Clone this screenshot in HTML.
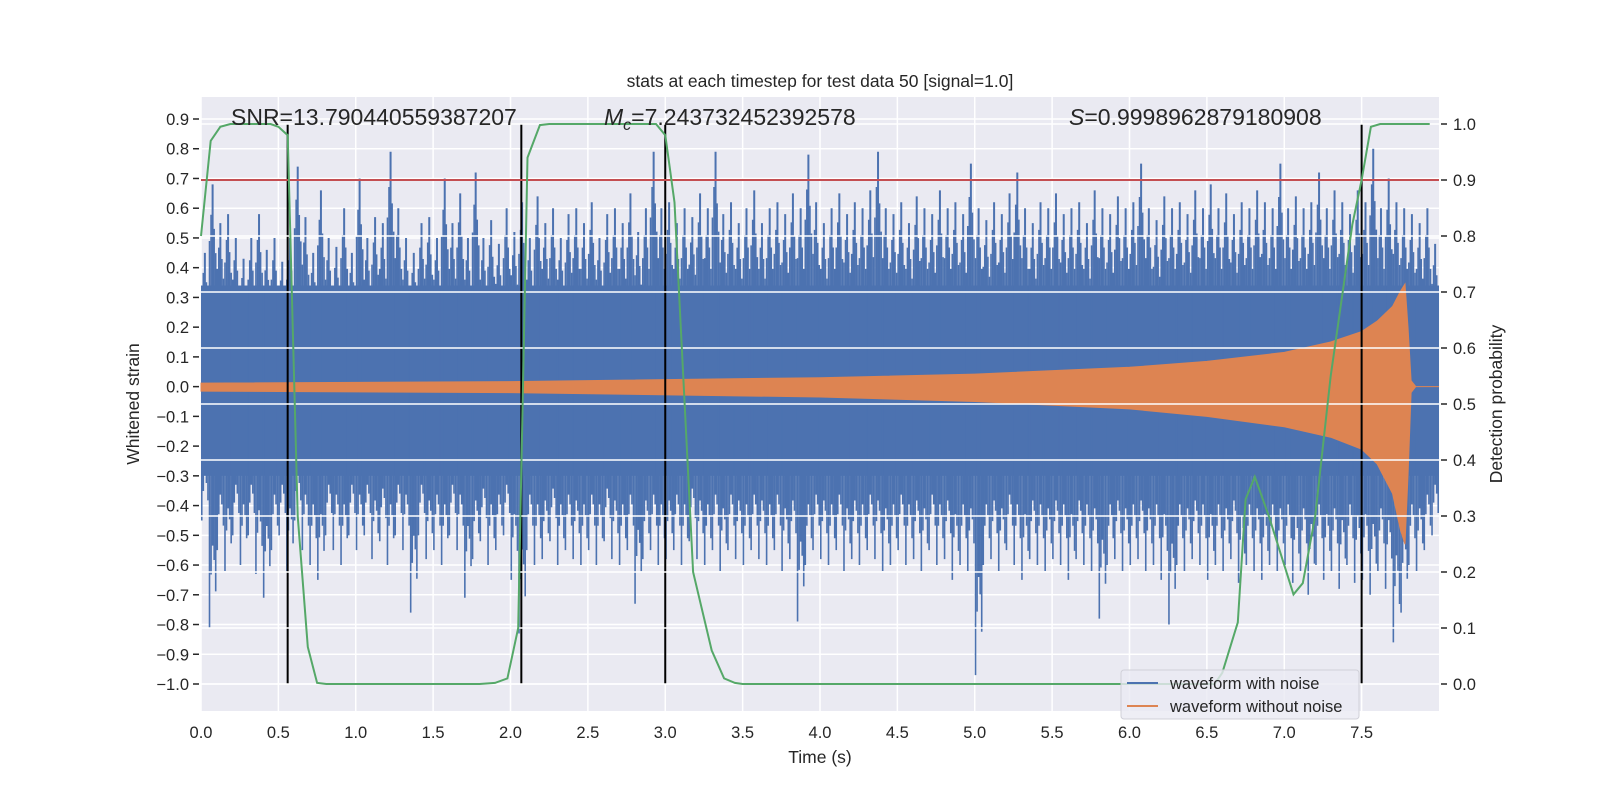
<!DOCTYPE html>
<html><head><meta charset="utf-8"><style>
html,body{margin:0;padding:0;background:#fff;}
svg{display:block;font-family:"Liberation Sans","DejaVu Sans",sans-serif;}
</style></head><body>
<svg id="chart" width="1600" height="800" viewBox="0 0 1600 800" xmlns="http://www.w3.org/2000/svg">
<rect x="0" y="0" width="1600" height="800" fill="#ffffff"/>
<rect x="201" y="97" width="1238" height="614" fill="#EAEAF2"/>
<g id="gridLeft"></g>
<g id="blueG"></g>
<g id="orangeG"></g>
<g id="vlinesG"></g>
<g id="gridRight"></g>
<g id="redG"></g>
<g id="greenG"></g>
<g id="axesG"></g>
<text x="820" y="87" font-size="17.5" fill="#262626" text-anchor="middle">stats at each timestep for test data 50 [signal=1.0]</text>
<text x="231" y="125" font-size="23" fill="#262626">SNR=13.790440559387207</text>
<text x="604" y="125" font-size="23" fill="#262626"><tspan font-style="italic">M</tspan><tspan font-style="italic" font-size="16" dy="5">c</tspan><tspan dy="-5">=7.243732452392578</tspan></text>
<text x="1069" y="125" font-size="23" fill="#262626"><tspan font-style="italic">S</tspan>=0.9998962879180908</text>
<text x="820" y="763" font-size="17.5" fill="#262626" text-anchor="middle">Time (s)</text>
<text x="0" y="0" font-size="17.5" fill="#262626" text-anchor="middle" transform="translate(139,404) rotate(-90)">Whitened strain</text>
<text x="0" y="0" font-size="17.5" fill="#262626" text-anchor="middle" transform="translate(1502,404) rotate(-90)">Detection probability</text>
<g>
<rect x="1121" y="670" width="238" height="49" rx="3" fill="#EAEAF2" fill-opacity="0.8" stroke="#d0d0d8"/>
<line x1="1127" y1="683" x2="1158" y2="683" stroke="#4C72B0" stroke-width="2"/>
<text x="1170" y="689" font-size="16.5" fill="#262626">waveform with noise</text>
<line x1="1127" y1="706" x2="1158" y2="706" stroke="#DD8452" stroke-width="2"/>
<text x="1170" y="712" font-size="16.5" fill="#262626">waveform without noise</text>
</g>
</svg>
<script>
const binSize = 0.05;
const noiseTop = [0.45,0.68,0.55,0.58,0.5,0.43,0.5,0.58,0.46,0.5,
0.42,0.5,0.74,0.57,0.45,0.66,0.5,0.47,0.6,0.45,
0.70,0.5,0.57,0.55,0.79,0.6,0.5,0.45,0.55,0.57,
0.5,0.70,0.55,0.65,0.5,0.72,0.5,0.56,0.48,0.6,
0.52,0.62,0.5,0.64,0.55,0.6,0.5,0.58,0.6,0.55,
0.62,0.5,0.58,0.6,0.55,0.65,0.52,0.6,0.79,0.6,
0.62,0.55,0.6,0.57,0.65,0.6,0.79,0.58,0.62,0.55,
0.6,0.66,0.55,0.6,0.62,0.58,0.65,0.6,0.78,0.62,
0.55,0.6,0.65,0.58,0.62,0.6,0.66,0.79,0.6,0.58,
0.62,0.55,0.64,0.6,0.58,0.66,0.6,0.62,0.58,0.75,
0.6,0.56,0.62,0.58,0.65,0.72,0.6,0.55,0.62,0.6,
0.65,0.58,0.6,0.62,0.55,0.66,0.6,0.58,0.64,0.6,
0.62,0.75,0.6,0.56,0.64,0.6,0.62,0.58,0.66,0.6,
0.68,0.6,0.65,0.58,0.62,0.6,0.66,0.62,0.6,0.75,
0.6,0.64,0.6,0.62,0.72,0.6,0.66,0.62,0.58,0.66,
0.62,0.80,0.6,0.7,0.62,0.6,0.58,0.55,0.6,0.48];
const noiseBottom = [-0.45,-0.81,-0.55,-0.62,-0.5,-0.6,-0.5,-0.63,-0.71,-0.55,
-0.5,-0.62,-0.45,-0.55,-0.6,-0.65,-0.5,-0.55,-0.6,-0.5,
-0.55,-0.5,-0.58,-0.52,-0.6,-0.5,-0.55,-0.76,-0.5,-0.58,
-0.55,-0.6,-0.5,-0.55,-0.71,-0.58,-0.52,-0.6,-0.55,-0.5,
-0.65,-0.83,-0.55,-0.6,-0.58,-0.52,-0.6,-0.55,-0.58,-0.6,
-0.55,-0.6,-0.52,-0.58,-0.6,-0.55,-0.73,-0.58,-0.55,-0.6,
-0.58,-0.55,-0.6,-0.52,-0.58,-0.6,-0.55,-0.62,-0.55,-0.58,
-0.6,-0.55,-0.58,-0.6,-0.55,-0.62,-0.58,-0.79,-0.6,-0.55,
-0.58,-0.6,-0.55,-0.62,-0.58,-0.6,-0.55,-0.58,-0.62,-0.6,
-0.55,-0.6,-0.58,-0.62,-0.55,-0.6,-0.58,-0.65,-0.6,-0.62,
-0.97,-0.6,-0.58,-0.62,-0.55,-0.6,-0.65,-0.58,-0.6,-0.62,
-0.58,-0.6,-0.65,-0.58,-0.6,-0.62,-0.78,-0.6,-0.58,-0.62,
-0.6,-0.58,-0.62,-0.6,-0.65,-0.80,-0.6,-0.62,-0.58,-0.6,
-0.65,-0.6,-0.62,-0.58,-0.66,-0.6,-0.62,-0.65,-0.6,-0.62,
-0.6,-0.66,-0.62,-0.7,-0.6,-0.65,-0.62,-0.68,-0.6,-0.66,
-0.65,-0.7,-0.62,-0.68,-0.86,-0.76,-0.6,-0.62,-0.55,-0.5];
const coreBand = [0.34, -0.3];
const chirpTimes = [0,2,4,5,6,6.5,7,7.3,7.5,7.6,7.7,7.75,7.78,7.8,7.82,7.85,8.0];
const chirpUpper = [0.012,0.017,0.03,0.042,0.065,0.085,0.115,0.15,0.185,0.22,0.27,0.32,0.345,0.2,0.02,0.0,0.0];
const chirpLower = [-0.015,-0.02,-0.035,-0.05,-0.075,-0.1,-0.135,-0.17,-0.21,-0.26,-0.36,-0.48,-0.53,-0.3,-0.02,0.0,0.0];
const probTimes = [0,0.0625,0.125,0.19,0.45,0.5,0.56,0.625,0.69,0.75,0.81,1.8,1.9,1.98,2.05,2.11,2.19,2.25,2.94,3.0,3.06,3.18,3.3,3.38,3.45,3.5,6.55,6.6,6.7,6.75,6.81,6.9,7.06,7.12,7.2,7.3,7.44,7.5,7.56,7.62,7.94];
const probValues = [0.80,0.97,0.995,1,1,0.995,0.98,0.3,0.066,0.002,0,0,0.002,0.01,0.1,0.94,0.998,1,1,0.98,0.86,0.2,0.06,0.01,0.002,0,0,0.02,0.11,0.33,0.37,0.3,0.16,0.18,0.3,0.55,0.82,0.9,0.995,1,1];
const detectTimes = [0.56,2.07,3.0,7.5];
const threshold = 0.9;
const xTicks = [0,0.5,1,1.5,2,2.5,3,3.5,4,4.5,5,5.5,6,6.5,7,7.5];
const yLeftTicks = [-1.0,-0.9,-0.8,-0.7,-0.6,-0.5,-0.4,-0.3,-0.2,-0.1,0.0,0.1,0.2,0.3,0.4,0.5,0.6,0.7,0.8,0.9];
const yRightTicks = [0.0,0.1,0.2,0.3,0.4,0.5,0.6,0.7,0.8,0.9,1.0];

const NS = 'http://www.w3.org/2000/svg';
const PL = 201, PR = 1439, PT = 97, PB = 711;
const xS = t => PL + t / 8 * (PR - PL);
const yL = v => 684 - (v + 1) * 297.37;
const yR = p => 684 - p * 560;
function mk(tag, parent, attrs) {
  const e = document.createElementNS(NS, tag);
  for (const k in attrs) e.setAttribute(k, attrs[k]);
  parent.appendChild(e);
  return e;
}
const gl = document.getElementById('gridLeft');
xTicks.forEach(t => {
  const l = mk('line', gl, {x1: xS(t), x2: xS(t), y1: PT, y2: PB, stroke: '#fff', 'stroke-width': 1.5});
  
  
});
yLeftTicks.forEach(v => {
  const l = mk('line', gl, {x1: PL, x2: PR, y1: yL(v), y2: yL(v), stroke: '#fff', 'stroke-width': 1.5});
  
  
});
const bg = document.getElementById('blueG');
const core = mk('rect', bg, {x: xS(0), width: xS(8) - xS(0), y: yL(coreBand[0]), height: yL(coreBand[1]) - yL(coreBand[0]), fill: '#4C72B0'});


const subOffsets = [-0.4, -0.2, 0.0, 0.2, 0.4];
const subScales = [0.72, 0.85, 1.0, 0.78, 0.66];
noiseTop.forEach((v, i) => {
  const tc = (i + 0.5) * binSize;
  subOffsets.forEach((off, k) => {
    const sc = subScales[k];
    const sb = subScales[(k + 2) % 5];
    const l = mk('line', bg, {x1: xS(tc + off * binSize), x2: xS(tc + off * binSize), y1: yL(v * sc), y2: yL(noiseBottom[i] * sb), stroke: '#4C72B0', 'stroke-width': k === 2 ? 2 : 1.6});
    
    
  });
});
const og = document.getElementById('orangeG');
let d = '';
chirpTimes.forEach((t, i) => { d += (i ? 'L' : 'M') + xS(t).toFixed(1) + ',' + yL(chirpUpper[i]).toFixed(1); });
for (let i = chirpTimes.length - 1; i >= 0; i--) d += 'L' + xS(chirpTimes[i]).toFixed(1) + ',' + yL(chirpLower[i]).toFixed(1);
const op = mk('path', og, {d: d + 'Z', fill: '#DD8452', stroke: '#DD8452', 'stroke-width': 1});


const vg = document.getElementById('vlinesG');
detectTimes.forEach(t => {
  const l = mk('line', vg, {x1: xS(t), x2: xS(t), y1: yR(1), y2: yR(0), stroke: '#000', 'stroke-width': 2});
  
  
});
const gr = document.getElementById('gridRight');
yRightTicks.forEach(p => {
  const l = mk('line', gr, {x1: PL, x2: PR, y1: yR(p), y2: yR(p), stroke: '#fff', 'stroke-width': 1.5});
  
  
});
const rg = document.getElementById('redG');
const rl = mk('line', rg, {x1: PL, x2: PR, y1: yR(threshold), y2: yR(threshold), stroke: '#C44E52', 'stroke-width': 2});


const gg = document.getElementById('greenG');
const pts = probTimes.map((t, i) => xS(t).toFixed(1) + ',' + yR(probValues[i]).toFixed(1)).join(' ');
const gp = mk('polyline', gg, {points: pts, fill: 'none', stroke: '#55A868', 'stroke-width': 2});


const ax = document.getElementById('axesG');
xTicks.forEach(t => {
  const tx = mk('text', ax, {x: xS(t), y: 738, 'font-size': 16.5, fill: '#262626', 'text-anchor': 'middle'});
  tx.textContent = t.toFixed(1);
  
  
});
yLeftTicks.forEach(v => {
  const tk = mk('line', ax, {x1: PL - 8, x2: PL - 2, y1: yL(v), y2: yL(v), stroke: '#262626', 'stroke-width': 1.5});
  
  
  const tx = mk('text', ax, {x: PL - 12, y: yL(v) + 6, 'font-size': 16.5, fill: '#262626', 'text-anchor': 'end'});
  tx.textContent = (v < 0 ? '\u2212' : '') + Math.abs(v).toFixed(1);
  
  
});
yRightTicks.forEach(p => {
  const tk = mk('line', ax, {x1: PR + 2, x2: PR + 8, y1: yR(p), y2: yR(p), stroke: '#262626', 'stroke-width': 1.5});
  
  
  const tx = mk('text', ax, {x: PR + 14, y: yR(p) + 6, 'font-size': 16.5, fill: '#262626'});
  tx.textContent = p.toFixed(1);
  
  
});
</script>
</body></html>
